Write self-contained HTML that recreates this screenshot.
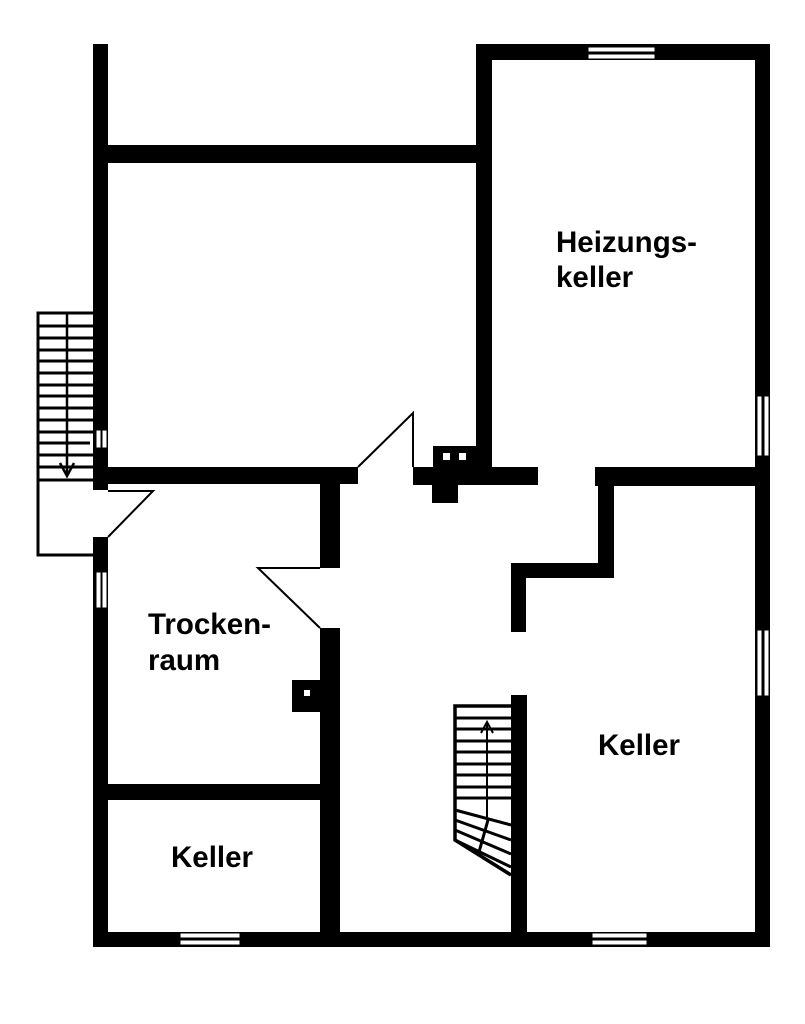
<!DOCTYPE html>
<html><head><meta charset="utf-8"><style>
html,body{margin:0;padding:0;background:#fff}
svg{display:block}
text{font-family:"Liberation Sans",sans-serif;font-weight:bold;font-size:29.5px;fill:#000}
</style></head><body>
<svg width="805" height="1024" viewBox="0 0 805 1024" xmlns="http://www.w3.org/2000/svg">
<g fill="#000">
<rect x="93" y="44" width="15" height="446"/>
<rect x="93" y="537" width="15" height="410"/>
<rect x="93" y="145" width="395" height="18"/>
<rect x="476" y="44" width="294" height="16"/>
<rect x="476" y="44" width="16" height="436"/>
<rect x="755" y="44" width="15" height="903"/>
<rect x="93" y="467" width="265" height="17"/>
<rect x="413" y="467" width="125" height="18"/>
<rect x="595" y="467" width="175" height="19"/>
<rect x="433" y="446" width="45" height="25"/>
<rect x="432" y="483" width="26" height="20"/>
<rect x="598" y="484" width="16" height="94"/>
<rect x="511" y="563" width="103" height="15"/>
<rect x="511" y="563" width="15" height="69"/>
<rect x="511" y="695" width="16" height="252"/>
<rect x="320" y="484" width="20" height="84"/>
<rect x="320" y="628" width="20" height="319"/>
<rect x="292" y="680" width="30" height="32"/>
<rect x="93" y="784" width="247" height="16"/>
<rect x="93" y="932" width="677" height="15"/>
</g>
<g fill="#fff">
<rect x="443" y="453" width="7" height="7"/>
<rect x="459" y="453" width="7" height="7"/>
<rect x="304" y="690" width="6" height="6"/>
</g>
<g fill="#fff" stroke="#000" stroke-width="1">
<rect x="588" y="47" width="67" height="5"/>
<rect x="588" y="54" width="67" height="5"/>
<rect x="180" y="933" width="60" height="5"/>
<rect x="180" y="940" width="60" height="5"/>
<rect x="592" y="933" width="55" height="5"/>
<rect x="592" y="940" width="55" height="5"/>
<rect x="757" y="396" width="5" height="60"/>
<rect x="764" y="396" width="5" height="60"/>
<rect x="757" y="630" width="5" height="66"/>
<rect x="764" y="630" width="5" height="66"/>
<rect x="96" y="430" width="5" height="18"/>
<rect x="102" y="430" width="5" height="18"/>
<rect x="96" y="572" width="5" height="36"/>
<rect x="102" y="572" width="5" height="36"/>
</g>
<g stroke="#000" fill="none" stroke-width="2">
<polyline points="358,467 413,413 413,467"/>
<polyline points="108,491 153,491 108,537"/>
<polyline points="320,568 258,568 320,628"/>
</g>
<g stroke="#000" fill="none" stroke-width="3">
<polyline points="93,313 38,313 38,555 103,555"/>
<line x1="38" y1="480" x2="93" y2="480"/>
<line x1="67" y1="313" x2="67" y2="475" stroke-width="2.5"/>
<polyline points="60,463 67,476 74,463" stroke-width="2.5"/>
<line x1="38" y1="326" x2="93" y2="326"/><line x1="38" y1="338" x2="93" y2="338"/>
<line x1="38" y1="350" x2="93" y2="350"/><line x1="38" y1="361" x2="93" y2="361"/>
<line x1="38" y1="373" x2="93" y2="373"/><line x1="38" y1="385" x2="93" y2="385"/>
<line x1="38" y1="396" x2="93" y2="396"/><line x1="38" y1="408" x2="93" y2="408"/>
<line x1="38" y1="420" x2="93" y2="420"/><line x1="38" y1="432" x2="93" y2="432"/>
<line x1="38" y1="443" x2="90" y2="443"/><line x1="38" y1="455" x2="93" y2="455"/>
<line x1="38" y1="467" x2="93" y2="467"/>
</g>
<g stroke="#000" stroke-width="3" fill="none">
<polyline points="511,706 455,706 455,840 511,875" stroke-width="3.5"/>
<line x1="455" y1="718" x2="511" y2="718"/><line x1="455" y1="729" x2="511" y2="729"/>
<line x1="455" y1="741" x2="511" y2="741"/><line x1="455" y1="752" x2="511" y2="752"/>
<line x1="455" y1="764" x2="511" y2="764"/><line x1="455" y1="775" x2="511" y2="775"/>
<line x1="455" y1="787" x2="511" y2="787"/><line x1="455" y1="798" x2="511" y2="798"/>
<line x1="455" y1="810" x2="511" y2="825"/>
<line x1="455" y1="820" x2="511" y2="840"/>
<line x1="455" y1="830" x2="511" y2="854"/>
<line x1="455" y1="840" x2="511" y2="867"/>
<line x1="488" y1="820" x2="479" y2="852"/>
<line x1="487" y1="722" x2="487" y2="820" stroke-width="2"/>
<polyline points="481,733 487,722 493,733" stroke-width="2"/>
</g>
<text x="556" y="252">Heizungs-</text>
<text x="556" y="287">keller</text>
<text x="148" y="634">Trocken-</text>
<text x="148" y="670">raum</text>
<text x="598" y="755">Keller</text>
<text x="171" y="867">Keller</text>
</svg>
</body></html>
